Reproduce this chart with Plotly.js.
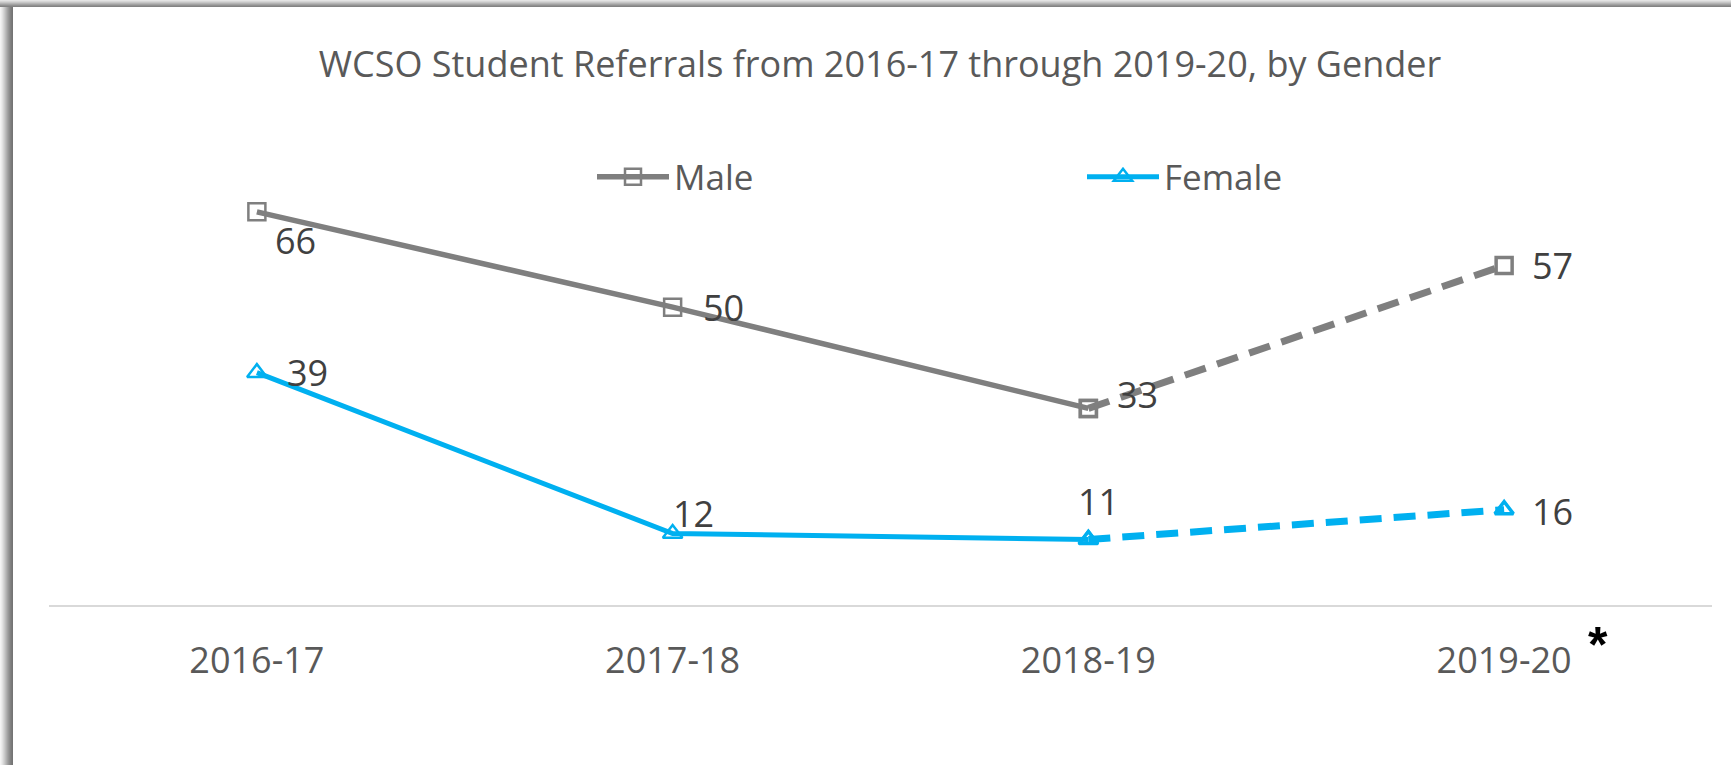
<!DOCTYPE html>
<html>
<head>
<meta charset="utf-8">
<script src="https://cdn.plot.ly/plotly-3.0.1.min.js"></script>
<style>
  html, body { margin: 0; padding: 0; background: #ffffff; }
  #chart { width: 1731px; height: 765px; }
</style>
</head>
<body>
<div id="chart"></div>
<script>
// ---- Data ----
const years = ["2016-17", "2017-18", "2018-19", "2019-20"];
const male = [66, 50, 33, 57];
const female = [39, 12, 11, 16];
const titleText = "WCSO Student Referrals from 2016-17 through 2019-20, by Gender";

// ---- Style ----
const W = 1731, H = 765;
const plotL = 49, plotR = 1712, plotT = 188, plotB = 605;
const yMax = 70;
const FONT = "Open Sans, sans-serif";
const grey = "#7f7f7f", blue = "#00b0f0";

// label offsets in px (dx, dy up positive)
const maleOff = [[39, -29], [51, 0], [49, 14], [48, 0]];
const femaleOff = [[51, 0], [21, 20], [10, 38], [48, -2]];

const px2x = p => (p - plotL) / (plotR - plotL);
const py2y = p => (plotB - p) / (plotB - plotT);

const solidIdx = [0, 1, 2];
const dashIdx = [2, 3];
const pick = (arr, idx) => idx.map(i => arr[i]);

const traces = [
  {
    name: "Male", x: pick(years, solidIdx), y: pick(male, solidIdx),
    type: "scatter", mode: "lines+markers",
    line: { color: grey, width: 5.5 },
    marker: { symbol: "square-open", size: 17, color: grey, line: { width: 2.5 } },
    hoverinfo: "skip"
  },
  {
    name: "Female", x: pick(years, solidIdx), y: pick(female, solidIdx),
    type: "scatter", mode: "lines+markers",
    line: { color: blue, width: 5 },
    marker: { symbol: "triangle-up-open", size: 17, color: blue, line: { width: 2.5 } },
    hoverinfo: "skip"
  },
  {
    name: "Male (dashed)", x: pick(years, dashIdx), y: pick(male, dashIdx),
    type: "scatter", mode: "lines+markers", showlegend: false,
    line: { color: grey, width: 7, dash: "22px,12px" },
    marker: { symbol: "square-open", size: 16, color: grey, line: { width: 3.5 } },
    hoverinfo: "skip"
  },
  {
    name: "Female (dashed)", x: pick(years, dashIdx), y: pick(female, dashIdx),
    type: "scatter", mode: "lines+markers", showlegend: false,
    line: { color: blue, width: 7, dash: "22px,12px" },
    marker: { symbol: "triangle-up-open", size: 16, color: blue, line: { width: 3.5 } },
    hoverinfo: "skip"
  }
];

const annotations = [];
years.forEach((yr, i) => {
  annotations.push({
    x: yr, y: male[i], xref: "x", yref: "y", text: String(male[i]),
    showarrow: false, xshift: maleOff[i][0], yshift: maleOff[i][1],
    font: { family: FONT, size: 36, color: "#404040" }
  });
  annotations.push({
    x: yr, y: female[i], xref: "x", yref: "y", text: String(female[i]),
    showarrow: false, xshift: femaleOff[i][0], yshift: femaleOff[i][1],
    font: { family: FONT, size: 36, color: "#404040" }
  });
});
annotations.push({
  x: px2x(1598), y: py2y(645), xref: "paper", yref: "paper", text: "<b>*</b>",
  showarrow: false, xanchor: "center", yanchor: "middle",
  font: { family: "Liberation Sans, Arial, sans-serif", size: 50, color: "#000000" }
});

// frame shadow (left and top), approximated gradient
const shapes = [];
const leftCols = ["#f4f4f4", "#ececec", "#e2e2e2", "#d6d6d6", "#cacaca", "#bdbdbd", "#b0b0b0", "#a3a3a3", "#979797", "#8c8c8c", "#828282", "#7a7a7a", "#747474"];
leftCols.forEach((c, i) => {
  shapes.push({ type: "rect", xref: "paper", yref: "paper", layer: "above",
    x0: px2x(i), x1: px2x(i + 1), y0: py2y(H), y1: py2y(0),
    fillcolor: c, line: { width: 0 } });
});
const topCols = ["#e4e4e4", "#d6d6d6", "#c6c6c6", "#b4b4b4", "#a2a2a2", "#909090", "#838383"];
topCols.forEach((c, i) => {
  shapes.push({ type: "rect", xref: "paper", yref: "paper", layer: "above",
    x0: px2x(0), x1: px2x(W), y0: py2y(i + 1), y1: py2y(i),
    fillcolor: c, line: { width: 0 } });
});

const layout = {
  width: W, height: H,
  margin: { l: plotL, r: W - plotR, t: plotT, b: H - plotB, pad: 0, autoexpand: false },
  paper_bgcolor: "#ffffff", plot_bgcolor: "#ffffff",
  font: { family: FONT, color: "#595959" },
  title: {
    text: titleText, font: { family: FONT, size: 36, color: "#595959" },
    x: px2x(880), xref: "paper", xanchor: "center",
    y: 1 - 64 / H, yref: "container", yanchor: "middle"
  },
  xaxis: {
    type: "category", range: [-0.5, 3.5], showgrid: false, zeroline: false,
    showline: true, linecolor: "#d9d9d9", linewidth: 2,
    ticks: "", tickfont: { family: FONT, size: 36, color: "#595959" },
    ticklabelstandoff: 23, fixedrange: true
  },
  yaxis: {
    range: [0, yMax], visible: false, showgrid: false, zeroline: false, fixedrange: true
  },
  showlegend: true,
  legend: {
    orientation: "h", x: px2x(592), xanchor: "left", xref: "paper",
    y: py2y(177), yanchor: "middle", yref: "paper",
    font: { family: FONT, size: 35, color: "#595959" },
    itemwidth: 72, entrywidth: 403, entrywidthmode: "pixels",
    bgcolor: "rgba(0,0,0,0)", tracegroupgap: 0
  },
  annotations: annotations,
  shapes: shapes
};

Plotly.newPlot("chart", traces, layout, { displayModeBar: false, staticPlot: true });
</script>
</body>
</html>
